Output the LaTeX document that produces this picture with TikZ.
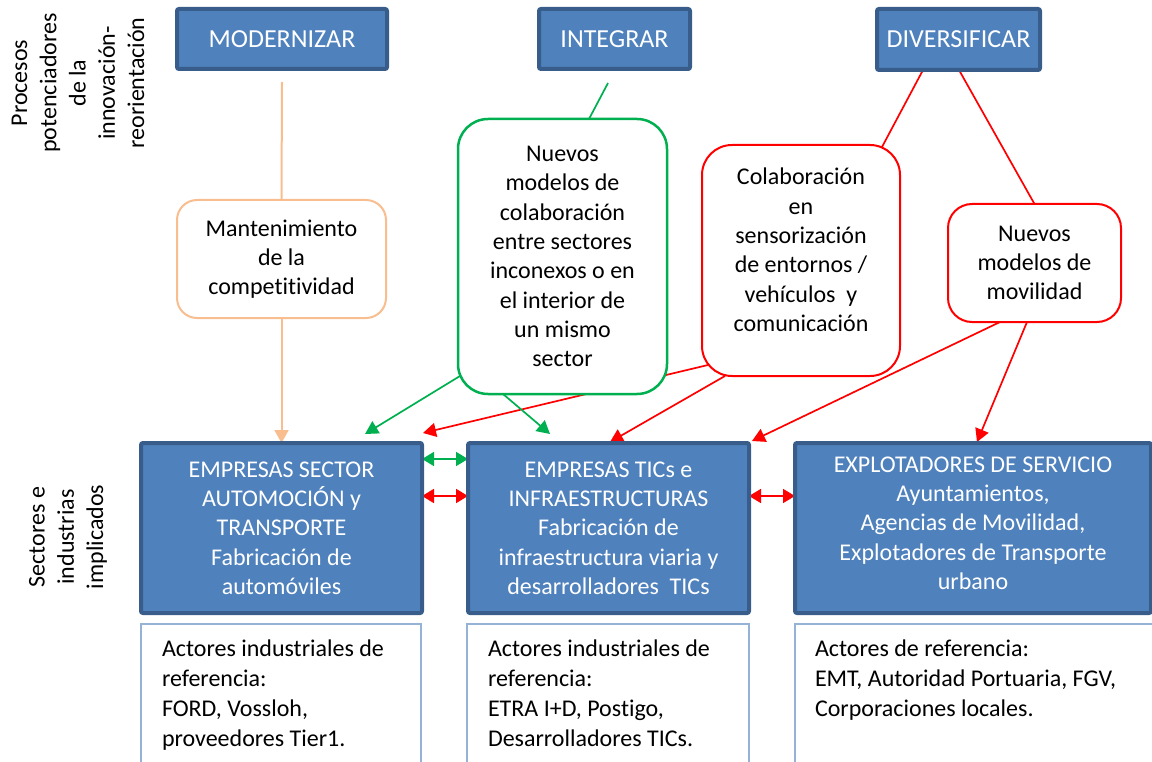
\documentclass[tikz,border=0pt]{standalone}
\usepackage{fontspec}
\setmainfont{Carlito}[Ligatures={NoCommon,NoContextual}]
\usetikzlibrary{arrows.meta,calc,backgrounds}
\definecolor{bfill}{HTML}{4F81BD}
\definecolor{bdraw}{HTML}{385D8A}
\definecolor{orng}{HTML}{F9BE8F}
\definecolor{grn}{HTML}{00B050}
\definecolor{rd}{HTML}{FF0000}
\definecolor{lblue}{HTML}{95B3D7}
\begin{document}
\begin{tikzpicture}[x=1pt,y=-1pt,
  every node/.style={outer sep=0pt, inner sep=0pt},
  ftext/.style={font=\fontsize{24}{29.3}\selectfont},
  topbox/.style={rectangle, fill=bfill, draw=bdraw, line width=4pt, rounded corners=2pt,
    text=white, font=\fontsize{26}{31}\selectfont},
  sectbox/.style={rectangle, fill=bfill, draw=bdraw, line width=4pt, rounded corners=2pt,
    text=white, align=center, ftext},
  procbox/.style={rectangle, fill=white, align=center, ftext},
  actbox/.style={rectangle, fill=white, draw=lblue, line width=1.5pt},
  acttext/.style={align=left, font=\fontsize{24}{29.8}\selectfont, anchor=north west},
  sidetext/.style={rotate=90, align=center, ftext},
  conn/.style={line width=1.7pt},
  tip/.style={-{Triangle[length=13pt,width=14pt]}},
  dtip/.style={{Triangle[length=12pt,width=14pt]}-{Triangle[length=12pt,width=14pt]}}
]
\useasboundingbox (0,0) rectangle (1152,762);
\clip (0,0) rectangle (1152,762);

% side labels
\node[sidetext] (proc) at (78,83) {Procesos\\potenciadores\\de la\\innovación-\\reorientación};
\node[sidetext] (sect) at (68,537) {Sectores e\\industrias\\implicados};

% top boxes
\node[topbox, minimum width=210, minimum height=60] (mod) at (282,39) {MODERNIZAR};
\node[topbox, minimum width=151, minimum height=60] (integ) at (614.5,39) {INTEGRAR};
\node[topbox, minimum width=163, minimum height=61] (divers) at (958.5,39.5) {DIVERSIFICAR};

% process boxes
\node[procbox, draw=orng, line width=2pt, rounded corners=20pt, minimum width=209, minimum height=118] (mant) at (281.5,259)
  {Mantenimiento\\de la\\competitividad};
\node[procbox, draw=rd, line width=2pt, rounded corners=30pt, minimum width=198, minimum height=231] (colab) at (801,260.5) {};
\node[ftext, align=center] (colabtxt) at (801,250)
  {Colaboración\\en\\sensorización\\de entornos /\\vehículos\ \ y\\comunicación};
\node[procbox, draw=rd, line width=2pt, rounded corners=24pt, minimum width=173, minimum height=118] (movil) at (1034.5,263)
  {Nuevos\\modelos de\\movilidad};

% sector boxes
\node[sectbox, minimum width=281, minimum height=170] (box1) at (281.5,528)
  {EMPRESAS SECTOR\\AUTOMOCIÓN y\\TRANSPORTE\\Fabricación de\\automóviles};
\node[sectbox, minimum width=281, minimum height=170] (box2) at (608.5,528)
  {EMPRESAS TICs e\\INFRAESTRUCTURAS\\Fabricación de\\infraestructura viaria y\\desarrolladores\ \ TICs};
\node[sectbox, minimum width=356, minimum height=170] (box3) at (973,528) {};
\node[ftext, align=center, text=white] (box3txt) at (973,523)
  {EXPLOTADORES DE SERVICIO\\Ayuntamientos,\\Agencias de Movilidad,\\Explotadores de Transporte\\urbano};

% actor boxes
\node[actbox, minimum width=280, minimum height=151] (act1) at (281,699.5) {};
\node[actbox, minimum width=282, minimum height=151] (act2) at (608,699.5) {};
\node[actbox, minimum width=365, minimum height=151] (act3) at (977.5,699.5) {};
\node[acttext] (act1txt) at (162,640) {Actores industriales de\\referencia:\\FORD, Vossloh,\\proveedores Tier1.};
\node[acttext] (act2txt) at (488,640) {Actores industriales de\\referencia:\\ETRA I+D, Postigo,\\Desarrolladores TICs.};
\node[acttext] (act3txt) at (815,640) {Actores de referencia:\\EMT, Autoridad Portuaria, FGV,\\Corporaciones locales.};

\coordinate (modout) at (282,82);
\coordinate (intout) at (608,83);

\begin{pgfonlayer}{background}
% red line passing behind the green box
\draw[conn, rd, tip] ($(colab.south west)+(6,-11)$) -- ($(box1.north east)+(1,-10)$);
\end{pgfonlayer}

% green box drawn over the red line
\node[procbox, draw=grn, line width=2.5pt, rounded corners=30pt, minimum width=209, minimum height=275] (green) at (562.5,256.5)
  {Nuevos\\modelos de\\colaboración\\entre sectores\\inconexos o en\\el interior de\\un mismo\\sector};

\begin{pgfonlayer}{background}
\draw[conn, orng, line width=2pt] (modout) -- (mant.north);
\draw[conn, orng, line width=2pt, tip] (mant.south) -- (box1.north);
\draw[conn, grn] (intout) -- ($(green.north)+(26.5,0)$);
\draw[conn, grn, tip] ($(green.south west)+(2,-18)$) -- ($(box1.north east)+(-57,-9)$);
\draw[conn, grn, tip] ($(green.south west)+(45,0)$) -- ($(box2.north west)+(82,-9)$);
\draw[conn, rd, tip] ($(colab.south west)+(23,0)$) -- ($(box2.north)+(1.5,-1)$);
\draw[conn, rd, tip] ($(movil.south)+(-34.5,0)$) -- ($(box2.north east)+(3,-2)$);
\draw[conn, rd, tip] ($(movil.south)+(-7.5,0)$) -- ($(box3.north)+(4,-1)$);
\draw[conn, rd] ($(divers.south)+(-35.5,0)$) -- ($(colab.north east)+(-18,2)$);
\draw[conn, rd] ($(divers.south)+(0.5,0)$) -- (movil.north);
\draw[conn, grn, dtip] ($(box1.east)+(0,-69)$) -- ($(box2.west)+(0,-69)$);
\draw[conn, rd, dtip] ($(box1.east)+(0,-32)$) -- ($(box2.west)+(0,-32)$);
\draw[conn, rd, dtip] ($(box2.east)+(0,-32)$) -- ($(box3.west)+(0,-32)$);
\end{pgfonlayer}
\end{tikzpicture}
\end{document}
